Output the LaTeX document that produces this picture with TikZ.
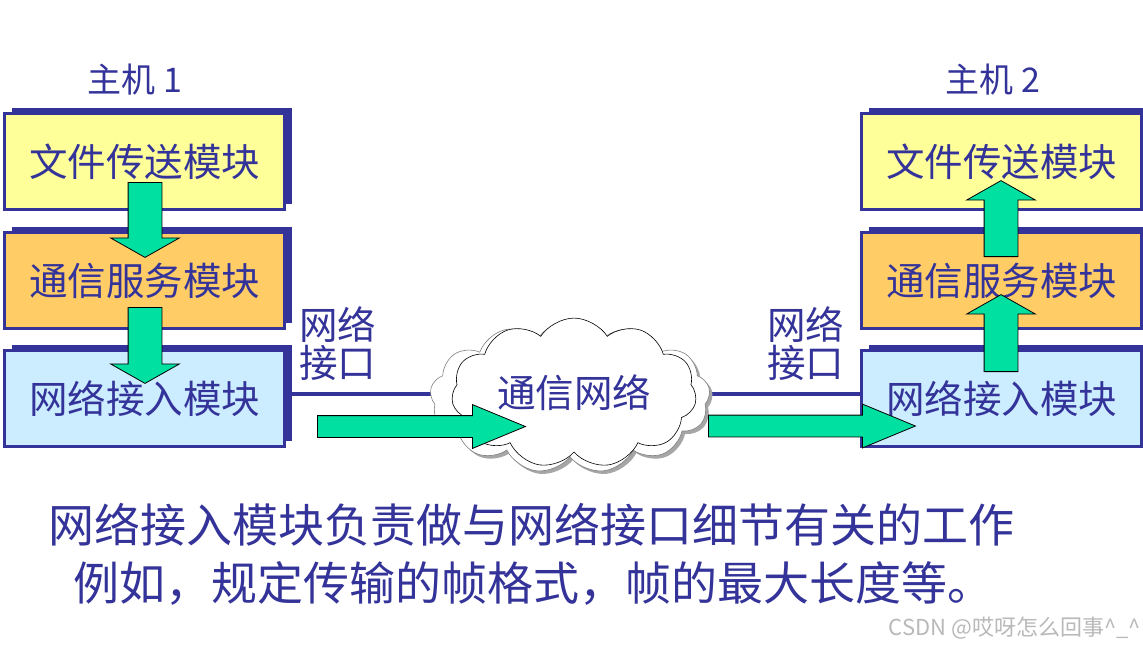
\documentclass[tikz,border=0pt]{standalone}
\usepackage{fontspec}
\setmainfont{Noto Sans CJK SC}
\usetikzlibrary{shapes.arrows,shapes.symbols,shadows,positioning}
\definecolor{HostBlue}{HTML}{333399}
\definecolor{FileYellow}{HTML}{FFFF99}
\definecolor{ServiceOrange}{HTML}{FFCC66}
\definecolor{AccessBlue}{HTML}{CCECFF}
\definecolor{ArrowGreen}{HTML}{00E0A0}
\tikzset{
  module/.style={draw=HostBlue,line width=3pt,minimum width=280pt,minimum height=96pt,inner sep=0pt,
    text=HostBlue,font=\fontsize{38.5}{40}\selectfont,
    drop shadow={shadow xshift=7.5pt,shadow yshift=6pt,fill=HostBlue,opacity=1}},
  fatarrow/.style={single arrow,draw=black,line width=0.8pt,fill=ArrowGreen,inner xsep=0pt,anchor=tail},
  vertarrow/.style={fatarrow,inner ysep=16.5pt,single arrow head extend=17.5pt,single arrow tip angle=121},
  horzarrow/.style={fatarrow,inner ysep=10.5pt,single arrow head extend=11pt,single arrow tip angle=45},
  netline/.style={draw=HostBlue,line width=4pt},
  netcloud/.style={cloud,cloud puffs=13,cloud puff arc=115,aspect=1.9,draw=black,line width=0.6pt,fill=white},
  ifacelabel/.style={align=left,inner sep=0pt,text=HostBlue,font=\fontsize{38.5}{38}\selectfont},
  hostlabel/.style={inner sep=0pt,text=HostBlue,font=\fontsize{34}{36}\selectfont},
  note/.style={anchor=west,inner sep=0pt,text=HostBlue,font=\fontsize{46}{48}\selectfont}
}
\begin{document}
\begin{tikzpicture}[x=1pt,y=-1pt]
  % pixel coordinates of the slide, y running down
  \fill[white] (0,0) rectangle (1143,649);
  \useasboundingbox (0,0) rectangle (1143,649);

  \node[hostlabel] (host1) at (135,80) {主机 1};
  \node[hostlabel] (host2) at (993,80) {主机 2};

  \node[module,fill=FileYellow] (lfile) at (144.5,161.5) {文件传送模块};
  \node[module,fill=ServiceOrange] (lservice) at (144.5,280.5) {通信服务模块};
  \node[module,fill=AccessBlue] (laccess) at (144.5,398.5) {网络接入模块};

  \node[module,fill=FileYellow] (rfile) at (1001.5,161.5) {文件传送模块};
  \node[module,fill=ServiceOrange] (rservice) at (1001.5,280.5) {通信服务模块};
  \node[module,fill=AccessBlue] (raccess) at (1001.5,398.5) {网络接入模块};

  \draw[netline] ([yshift=4.5pt]laccess.east) -- ([yshift=4.5pt]laccess.east -| 570,0);
  \draw[netline] ([yshift=4.5pt]raccess.west) -- ([yshift=4.5pt]raccess.west -| 570,0);

  \node[netcloud,draw=gray,minimum width=280pt,minimum height=152pt,
    drop shadow={shadow xshift=3pt,shadow yshift=-3pt,fill=gray!70,opacity=1}] (netback) at (570,397) {};
  \node[netcloud,cloud puffs=11,minimum width=245pt,minimum height=138pt] (net) at (574,393)
    {\textcolor{HostBlue}{\fontsize{38.5}{40}\selectfont 通信网络}};

  \node[ifacelabel] (liface) at (337.5,344) {网络\\接口};
  \node[ifacelabel] (riface) at (805.5,344) {网络\\接口};

  \node[vertarrow,rotate=-90,minimum height=75pt] (down1) at (145,182) {};
  \node[vertarrow,rotate=-90,minimum height=76pt] (down2) at (145,307) {};
  \node[vertarrow,rotate=90,minimum height=76pt] (up1) at (1001,257) {};
  \node[vertarrow,rotate=90,minimum height=77pt] (up2) at (1001,372) {};
  \node[horzarrow,minimum height=208pt] (send1) at (317,426.5) {};
  \node[horzarrow,minimum height=207pt] (send2) at (708,426) {};

  \node[note] (line1) at (48,525) {网络接入模块负责做与网络接口细节有关的工作};
  \node[note] (line2) at (73,583) {例如，规定传输的帧格式，帧的最大长度等。};

  \node[anchor=east,inner sep=0pt,text=gray!55,font=\fontsize{22}{23}\selectfont] (mark) at (1141,628)
    {CSDN @哎呀怎么回事\^{}\_\^{}};
\end{tikzpicture}
\end{document}
